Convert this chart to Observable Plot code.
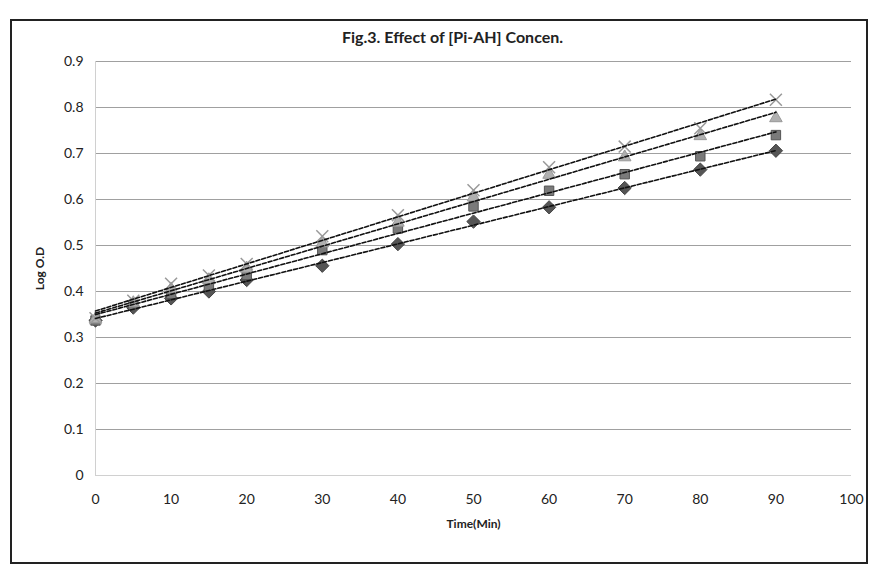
<!DOCTYPE html>
<html>
<head>
<meta charset="utf-8">
<script src="https://cdn.jsdelivr.net/npm/d3@7"></script>
<script src="https://cdn.jsdelivr.net/npm/@observablehq/plot@0.6"></script>
<style>
  html, body { margin: 0; padding: 0; background: #fff; }
  body { width: 876px; height: 576px; position: relative; overflow: hidden; font-family: Lato, "Open Sans", sans-serif; }
  #frame { position: absolute; left: 10px; top: 19px; width: 858px; height: 545px; border: 2px solid #222; box-sizing: border-box; }
  #title { position: absolute; left: 0; width: 905px; top: 27px; text-align: center; font-weight: bold; font-size: 16px; color: #222; }
  #chart { position: absolute; left: 0; top: 0; }
</style>
</head>
<body>
<div id="frame"></div>
<div id="chart"></div>
<div id="title">Fig.3. Effect of [Pi-AH] Concen.</div>
<script>
const times = [0, 5, 10, 15, 20, 30, 40, 50, 60, 70, 80, 90];
const seriesNames = ["Diamond", "Square", "Triangle", "Cross"];
const diamondVals  = [0.337, 0.365, 0.385, 0.400, 0.425, 0.456, 0.503, 0.552, 0.583, 0.625, 0.665, 0.706];
const squareVals   = [0.337, 0.371, 0.395, 0.412, 0.436, 0.490, 0.537, 0.585, 0.619, 0.655, 0.694, 0.740];
const triangleVals = [0.340, 0.375, 0.405, 0.425, 0.450, 0.505, 0.550, 0.605, 0.654, 0.692, 0.738, 0.777];
const crossVals    = [0.342, 0.380, 0.417, 0.435, 0.460, 0.520, 0.566, 0.620, 0.670, 0.715, 0.755, 0.817];
const xTicks = [0, 10, 20, 30, 40, 50, 60, 70, 80, 90, 100];
const yTicks = [0, 0.1, 0.2, 0.3, 0.4, 0.5, 0.6, 0.7, 0.8, 0.9];

const allVals = [diamondVals, squareVals, triangleVals, crossVals];
const symbols = ["diamond2", "square2", "triangle2", "times"];
const fills = ["#555", "#7a7a7a", "#b0b0b0", "none"];
const strokes = ["#444", "#555", "#999", "#999"];

const data = [];
allVals.forEach((vals, si) => vals.forEach((v, i) => data.push({series: seriesNames[si], t: times[i], v})));

const marks = [
  Plot.ruleY(yTicks.filter(d => d > 0), {stroke: "#a0a0a0", strokeWidth: 1}),
  Plot.ruleY([0], {stroke: "#d0d0d0", strokeWidth: 1}),
  Plot.ruleX([0], {stroke: "#d0d0d0", strokeWidth: 1}),
  Plot.axisX({ticks: xTicks, tickSize: 0, tickPadding: 19, tickFormat: d => String(d), fontSize: 14, label: "Time(Min)", labelAnchor: "center", labelArrow: "none", labelOffset: 52}),
  Plot.axisY({ticks: yTicks, tickSize: 0, tickPadding: 12, tickFormat: d => d === 0 ? "0" : d.toFixed(1), fontSize: 14, label: "Log O.D", labelAnchor: "center", labelArrow: "none", labelOffset: 60})
];
seriesNames.forEach((name, si) => {
  const sub = data.filter(d => d.series === name);
  marks.push(Plot.dot(sub, {x: "t", y: "v", symbol: () => symbols[si], r: si === 3 ? 5.5 : 6, fill: fills[si], stroke: strokes[si], strokeWidth: si === 3 ? 1.5 : 1}));
});
seriesNames.forEach((name) => {
  const sub = data.filter(d => d.series === name);
  marks.push(Plot.linearRegressionY(sub, {x: "t", y: "v", ci: 0, stroke: "#111", strokeWidth: 1.6, strokeDasharray: "4,2"}));
});

const plot = Plot.plot({
  width: 876,
  height: 576,
  marginLeft: 95,
  marginRight: 25,
  marginTop: 61,
  marginBottom: 101,
  style: {fontFamily: "Lato, 'Open Sans', sans-serif", fontSize: "14px", color: "#222", background: "transparent"},
  x: {domain: [0, 100]},
  y: {domain: [0, 0.9]},
  symbol: {type: "identity"},
  marks
});
plot.querySelectorAll("g[aria-label='x-axis label'] text, g[aria-label='y-axis label'] text").forEach(t => { t.setAttribute("font-weight", "bold"); t.setAttribute("font-size", "12"); });
document.getElementById("chart").appendChild(plot);
</script>
</body>
</html>
